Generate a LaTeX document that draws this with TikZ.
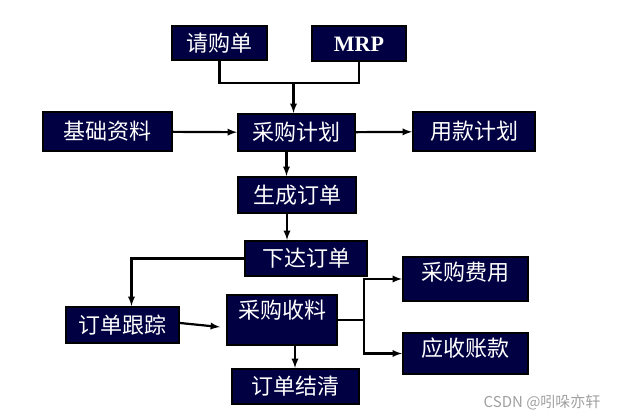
\documentclass[tikz,border=0pt]{standalone}
\usepackage{fontspec}
\usepackage{tikz}
\usetikzlibrary{positioning}
\newfontfamily\cjk{Noto Sans CJK SC}
\newfontfamily\mrpfont{Liberation Serif}
\definecolor{navy}{RGB}{0,0,66}
\definecolor{wmgrey}{RGB}{160,160,160}
\tikzstyle{blk} = [rectangle, draw=black, line width=2pt, fill=navy, text=white, inner sep=0pt, font=\cjk\fontsize{22pt}{22pt}\selectfont]
\tikzstyle{link} = [line width=2.2pt, -latex]

\begin{document}
\begin{tikzpicture}[x=1pt, y=-1pt]
\useasboundingbox (0,0) rectangle (618,419);
% top row
\node(QGD)[blk, minimum width=95pt, minimum height=34pt] at (219.5,43.3) {请购单};
\node(MRP)[blk, minimum width=94pt, minimum height=35pt, font=\mrpfont\bfseries\fontsize{22pt}{22pt}\selectfont] at (359,44) {MRP};
% plan row
\node(CGJH)[blk, minimum width=117pt, minimum height=37pt] at (296.5,132.5) {采购计划};
\node(JCZL)[blk, minimum width=129pt, minimum height=39pt] at (107,131.5) {基础资料};
\node(YKJH)[blk, minimum width=122pt, minimum height=39pt] at (474,131.5) {用款计划};
% orders
\node(SCDD)[blk, minimum width=118pt, minimum height=36pt] at (297,195) {生成订单};
\node(XDDD)[blk, minimum width=122pt, minimum height=35pt] at (306,258.5) {下达订单};
\node(DDGZ)[blk, minimum width=113pt, minimum height=36pt] at (122.5,325) {订单跟踪};
\node(CGSL)[blk, minimum width=110pt, minimum height=50pt, text depth=22pt] at (282,320) {采购收料};
\node(CGFY)[blk, minimum width=125pt, minimum height=44pt, text depth=16pt] at (465.4,279) {采购费用};
\node(YSZK)[blk, minimum width=125pt, minimum height=41pt, text depth=13pt] at (465.4,353.5) {应收账款};
\node(DDJQ)[blk, minimum width=127pt, minimum height=35pt] at (295,386.5) {订单结清};
\node(WM)[text=wmgrey, font=\cjk\fontsize{15pt}{15pt}\selectfont, anchor=east] at (604,402.5) {CSDN @吲哚亦轩};

\coordinate (J1) at ([yshift=-22pt]QGD.south -| CGJH.north);
\coordinate (J2) at ([xshift=26pt]CGSL.east);

\draw[line width=2.2pt] (QGD.south) |- ([xshift=-3pt]J1);
\draw[line width=2.2pt] (MRP.south) |- ([xshift=-3pt]J1);
\draw[link] ([xshift=-3pt]J1) -- ([xshift=-3pt]CGJH.north);
\draw[link] (JCZL) -- (CGJH);
\draw[link] (CGJH) -- (YKJH);
\draw[link] ([xshift=-10pt]CGJH.south) -- ([xshift=-10pt]CGJH.south |- SCDD.north);
\draw[link] ([xshift=-10pt]SCDD.south) -- ([xshift=-10pt]SCDD.south |- XDDD.north);
\draw[link] (XDDD.west) -| ([xshift=9pt]DDGZ.north);
\draw[link] ([yshift=2pt]DDGZ.east) -- ([xshift=-6pt,yshift=-7pt]CGSL.west);
\draw[line width=2.2pt] (CGSL.east) -- (J2);
\draw[link] (J2) |- (CGFY.west);
\draw[link] (J2) |- (YSZK.west);
\draw[link] (CGSL.south -| DDJQ.north) -- (DDJQ.north);
\end{tikzpicture}
\end{document}
